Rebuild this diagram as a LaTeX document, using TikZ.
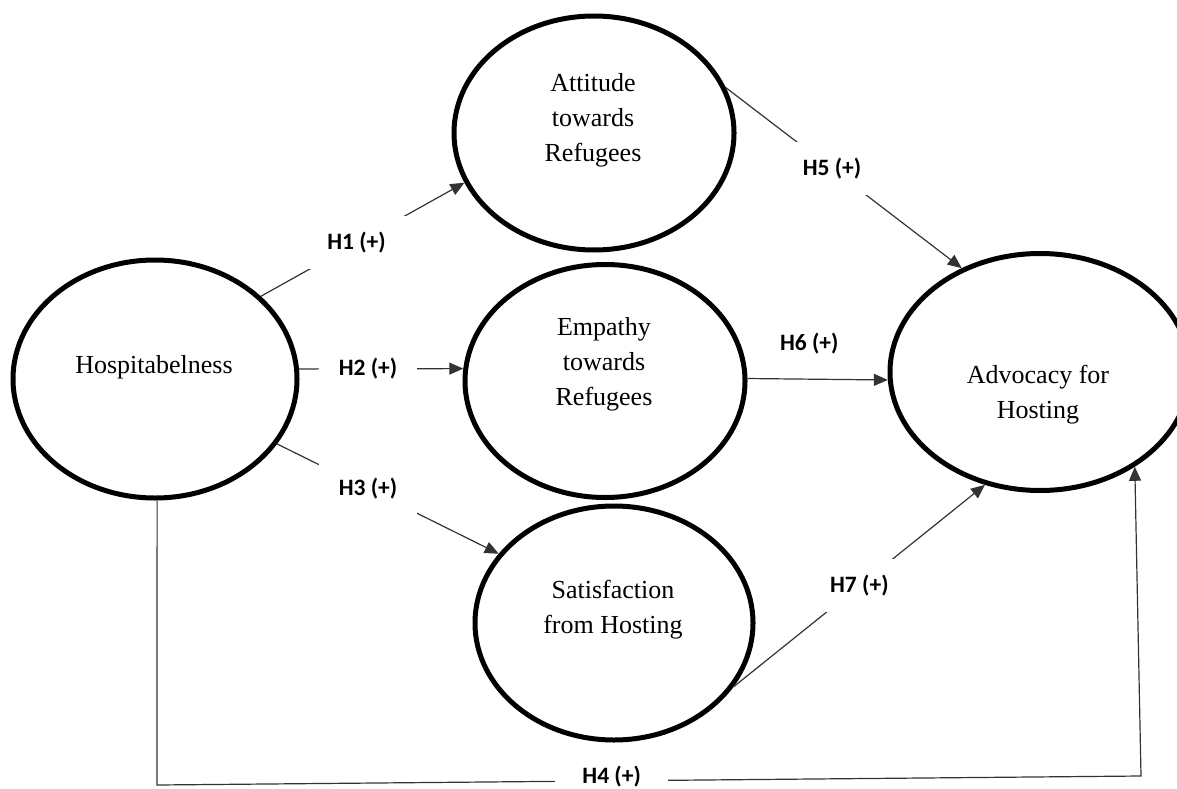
\documentclass[tikz,border=0pt]{standalone}
\usepackage{fontspec}
\setmainfont{Liberation Serif}
\newfontfamily\labfont{Carlito}
\usetikzlibrary{shapes.geometric,arrows.meta}
\begin{document}
\begin{tikzpicture}[x=1pt,y=-1pt,
  latent/.style={ellipse, draw=black, line width=5pt, inner sep=0pt},
  ltext/.style={font=\fontsize{26}{35}\selectfont, align=center, inner sep=0pt},
  conn/.style={draw=black!80, line width=1.2pt},
  arr/.style={conn, -{Triangle[length=14pt,width=12pt]}},
  hlab/.style={font=\labfont\bfseries\fontsize{23.5}{28}\selectfont, fill=white, text=black, inner xsep=20pt, inner ysep=16pt}]
\useasboundingbox (0,0) rectangle (1177,789);

% latent constructs
\node[latent, minimum width=284pt, minimum height=238pt] (hosp) at (155,379) {};
\node[ltext] (hospT) at (154,367) {Hospitabelness};
\node[latent, minimum width=280pt, minimum height=234pt] (att) at (594,133) {};
\node[ltext] (attT) at (593,120) {Attitude\\towards\\Refugees};
\node[latent, minimum width=280pt, minimum height=233pt] (emp) at (605,381) {};
\node[ltext] (empT) at (604,364) {Empathy\\towards\\Refugees};
\node[latent, minimum width=278pt, minimum height=234pt] (sat) at (614,623) {};
\node[ltext] (satT) at (613,610) {Satisfaction\\from Hosting};
\node[latent, minimum width=300pt, minimum height=237pt] (adv) at (1040,372) {};
\node[ltext] (advT) at (1038,395) {Advocacy for\\Hosting};

\coordinate (c4a) at (157,785);
\coordinate (c4b) at (1141,776);

% hypotheses
\draw[arr] (hosp.38) -- node[hlab, pos=0.47] (h1) {H1 (+)} (att.201);
\draw[arr] (hosp.4) -- node[hlab, pos=0.42] (h2) {H2 (+)} (emp.175);
\draw[arr] (hosp.332) -- node[hlab, pos=0.41] (h3) {H3 (+)} (sat.149);
\draw[arr] (hosp.271) -- (c4a) -- node[hlab, inner xsep=27pt, inner ysep=3pt, pos=0.462, yshift=4pt] (h4) {H4 (+)} (c4b) -- (adv.315);
\draw[arr] (att.19) -- node[hlab, pos=0.45] (h5) {H5 (+)} (adv.127);
\draw[arr] (emp.1) -- node[hlab, fill=none, pos=0.44, yshift=36pt] (h6) {H6 (+)} (adv.183);
\draw[arr] (sat.332) -- node[hlab, pos=0.5] (h7) {H7 (+)} (adv.244);
\end{tikzpicture}
\end{document}
